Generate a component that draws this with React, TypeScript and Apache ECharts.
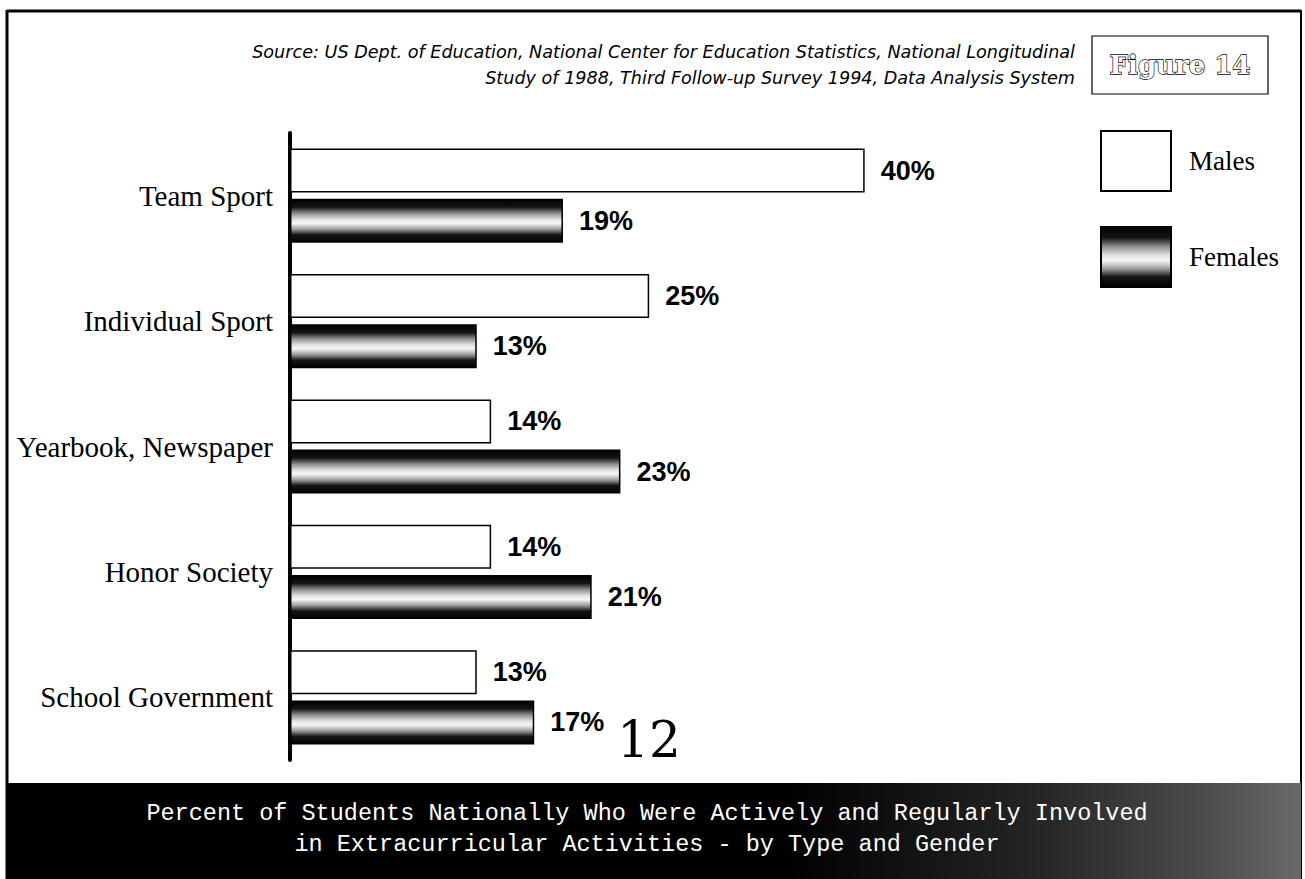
import React, { useEffect, useRef } from "react";
import * as echarts from "echarts";

const categories = ["Team Sport", "Individual Sport", "Yearbook, Newspaper", "Honor Society", "School Government"];
const males = [40, 25, 14, 14, 13];
const females = [19, 13, 23, 21, 17];
const sourceLines = [
  "Source: US Dept. of Education, National Center for Education Statistics, National Longitudinal",
  "Study of 1988, Third Follow-up Survey 1994, Data Analysis System",
];
const titleLines = [
  "Percent of Students Nationally Who Were Actively and Regularly Involved",
  "in Extracurricular Activities - by Type and Gender",
];
const figureLabel = "Figure 14";
const pageNumber = "12";

export default function App() {
  const ref = useRef<HTMLDivElement>(null);
  useEffect(() => {
    if (!ref.current) return;
    const chart = echarts.init(ref.current, null, { renderer: "svg" });
    const femaleFill = new echarts.graphic.LinearGradient(0, 0, 0, 1, [
      { offset: 0, color: "#000" },
      { offset: 0.18, color: "#151515" },
      { offset: 0.32, color: "#8a8a8a" },
      { offset: 0.47, color: "#e2e2e2" },
      { offset: 0.56, color: "#f6f6f6" },
      { offset: 0.7, color: "#9a9a9a" },
      { offset: 0.83, color: "#151515" },
      { offset: 1, color: "#000" },
    ]);
    const bannerFill = new echarts.graphic.LinearGradient(0, 0, 1, 0, [
      { offset: 0, color: "#000" },
      { offset: 0.6, color: "#000" },
      { offset: 0.8, color: "#262626" },
      { offset: 0.92, color: "#4a4a4a" },
      { offset: 1, color: "#6a6a6a" },
    ]);
    const labelStyle = {
      show: true,
      position: "right",
      distance: 16,
      formatter: "{c}%",
      fontFamily: "'Liberation Sans Narrow', 'Liberation Sans', Roboto, sans-serif",
      fontWeight: "bold",
      fontSize: 27,
      color: "#000",
    };
    const sourceStyle = {
      textAlign: "right",
      textVerticalAlign: "middle",
      verticalAlign: "middle",
      fontSize: 17.6,
      fontStyle: "italic",
      fontFamily: "'DejaVu Sans', sans-serif",
      fill: "#000",
    };
    const bannerText = {
      textAlign: "center",
      textVerticalAlign: "middle",
      verticalAlign: "middle",
      fontSize: 23.5,
      fontFamily: "'Liberation Mono', 'DejaVu Sans Mono', monospace",
      fill: "#fff",
    };
    chart.setOption({
      animation: false,
      backgroundColor: "#fff",
      grid: { left: 290, top: 133, width: 862, height: 627, containLabel: false },
      xAxis: { type: "value", min: 0, max: 60, show: false },
      yAxis: {
        type: "category",
        data: categories,
        inverse: true,
        axisLine: { show: true, lineStyle: { color: "#000", width: 4 } },
        axisTick: { show: false },
        splitLine: { show: false },
        axisLabel: {
          margin: 17,
          color: "#000",
          fontSize: 29,
          fontFamily: "'Liberation Serif', 'DejaVu Serif', serif",
        },
      },
      legend: {
        orient: "vertical",
        left: 1100,
        top: 130,
        padding: 0,
        itemWidth: 70,
        itemHeight: 60,
        itemGap: 34,
        icon: "rect",
        textStyle: {
          fontSize: 27,
          color: "#000",
          fontFamily: "'Liberation Serif', 'DejaVu Serif', serif",
          padding: [0, 0, 0, 13],
        },
        data: ["Males", "Females"],
      },
      series: [
        {
          name: "Males",
          type: "bar",
          data: males,
          barWidth: 44,
          barGap: "14%",
          itemStyle: { color: "#fff", borderColor: "#000", borderWidth: 1.5 },
          label: labelStyle,
        },
        {
          name: "Females",
          type: "bar",
          data: females,
          barWidth: 44,
          barGap: "14%",
          itemStyle: { color: femaleFill, borderColor: "#000", borderWidth: 1.5 },
          label: labelStyle,
        },
      ],
      graphic: [
        { type: "line", shape: { x1: 7, y1: 11, x2: 1301, y2: 11 }, style: { stroke: "#000", lineWidth: 3 } },
        { type: "line", shape: { x1: 7, y1: 10, x2: 7, y2: 879 }, style: { stroke: "#000", lineWidth: 3 } },
        { type: "line", shape: { x1: 1301, y1: 10, x2: 1301, y2: 879 }, style: { stroke: "#000", lineWidth: 2 } },
        { type: "text", x: 1075, y: 52, style: { ...sourceStyle, text: sourceLines[0] } },
        { type: "text", x: 1075, y: 78, style: { ...sourceStyle, text: sourceLines[1] } },
        {
          type: "rect",
          shape: { x: 1092, y: 36, width: 176, height: 58 },
          style: { fill: "#fff", stroke: "#000", lineWidth: 1.2 },
        },
        {
          type: "text",
          x: 1180,
          y: 65,
          style: {
            text: figureLabel,
            textAlign: "center",
            textVerticalAlign: "middle",
            verticalAlign: "middle",
            fontSize: 26,
            fontWeight: "bold",
            fontFamily: "'DejaVu Serif', serif",
            fill: "#fff",
            stroke: "#000",
            lineWidth: 1.3,
          },
        },
        {
          type: "text",
          x: 649,
          y: 740,
          style: {
            text: pageNumber,
            textAlign: "center",
            textVerticalAlign: "middle",
            verticalAlign: "middle",
            fontSize: 50,
            fontFamily: "'DejaVu Serif', serif",
            fill: "#000",
          },
        },
        {
          type: "rect",
          shape: { x: 7, y: 783, width: 1294, height: 96 },
          style: { fill: bannerFill },
        },
        { type: "text", x: 647, y: 813, style: { ...bannerText, text: titleLines[0] } },
        { type: "text", x: 647, y: 844, style: { ...bannerText, text: titleLines[1] } },
      ],
    });
    return () => chart.dispose();
  }, []);
  return (
    <div
      ref={ref}
      style={{ position: "fixed", left: 0, top: 0, width: 1305, height: 879, background: "#fff" }}
    />
  );
}
